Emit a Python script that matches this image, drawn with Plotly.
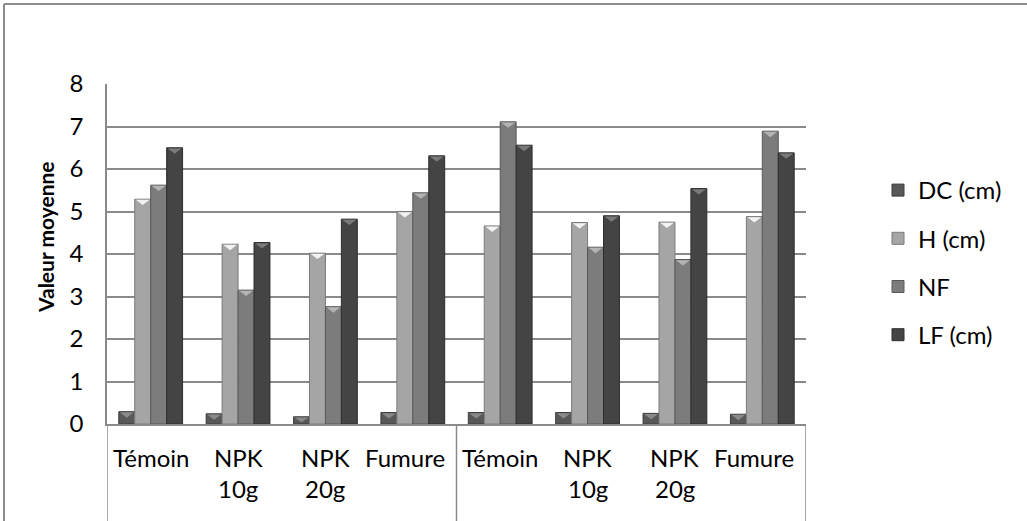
import plotly.graph_objects as go

# Treatments (two series of four) and measured means
categories = ["Témoin", "NPK 10g", "NPK 20g", "Fumure",
              "Témoin", "NPK 10g", "NPK 20g", "Fumure"]
label_lines = [["Témoin"], ["NPK", "10g"], ["NPK", "20g"], ["Fumure"],
               ["Témoin"], ["NPK", "10g"], ["NPK", "20g"], ["Fumure"]]
series_names = ["DC (cm)", "H (cm)", "NF", "LF (cm)"]
dc = [0.29, 0.24, 0.17, 0.27, 0.27, 0.27, 0.25, 0.23]
h = [5.29, 4.23, 4.02, 5.00, 4.66, 4.74, 4.75, 4.88]
nf = [5.62, 3.15, 2.76, 5.44, 7.11, 4.16, 3.87, 6.89]
lf = [6.50, 4.27, 4.82, 6.31, 6.56, 4.90, 5.54, 6.38]
y_ticks = [0, 1, 2, 3, 4, 5, 6, 7, 8]

# Styling
FONT = "Lato, 'Open Sans', sans-serif"
fills = ["#585858", "#a5a5a5", "#7c7c7c", "#444444"]
edges = ["#3c3c3c", "#7a7a7a", "#585858", "#2e2e2e"]
caps = ["#8a8a8a", "#f2f2f2", "#b4b4b4", "#7a7a7a"]
GRID = "#8a8a8a"

W, H = 1027, 521
L, R, T, B = 107, 221, 84, 97
pw, ph = W - L - R, H - T - B

bar_w = 0.1825
start = -0.365


def px_to_paper_x(px):
    return (px - L) / pw


def py_to_paper_y(py):
    return (H - B - py) / ph


fig = go.Figure()
x_idx = list(range(len(categories)))
all_series = [dc, h, nf, lf]
for j, (name, vals) in enumerate(zip(series_names, all_series)):
    fig.add_trace(go.Bar(
        x=x_idx, y=vals, name=name,
        width=bar_w, offset=start + j * bar_w,
        marker=dict(color=fills[j], line=dict(color=edges[j], width=1)),
        legendgroup=name,
        hovertext=categories,
    ))

shapes = []
# bevelled cap on each bar top
for j, vals in enumerate(all_series):
    for i, v in enumerate(vals):
        x0 = i + start + j * bar_w + 0.012
        x1 = i + start + (j + 1) * bar_w - 0.012
        xc = (x0 + x1) / 2
        d = min(0.14, v * 0.75)
        shapes.append(dict(
            type="path", xref="x", yref="y",
            path=f"M {x0},{v - 0.015} L {x1},{v - 0.015} L {xc},{v - d} Z",
            fillcolor=caps[j], line=dict(width=0), layer="above"))

# outer chart frame (top and left edges)
shapes.append(dict(type="line", xref="paper", yref="paper",
                   x0=px_to_paper_x(4), x1=px_to_paper_x(W + 5),
                   y0=py_to_paper_y(4), y1=py_to_paper_y(4),
                   line=dict(color="#8c8c8c", width=2)))
shapes.append(dict(type="line", xref="paper", yref="paper",
                   x0=px_to_paper_x(4), x1=px_to_paper_x(4),
                   y0=py_to_paper_y(4), y1=py_to_paper_y(H + 5),
                   line=dict(color="#8c8c8c", width=2)))

# category-axis group dividers below the plot
for xv in [-0.5, 3.5, 7.5]:
    shapes.append(dict(type="line", xref="x", yref="paper",
                       x0=xv, x1=xv, y0=0, y1=py_to_paper_y(H + 5),
                       line=dict(color=GRID, width=1.5)))

# category labels, centred under each category
label_xshift = [0, 0, 0, -8, 0, 0, 0, -8]
annotations = []
for i, lines in enumerate(label_lines):
    for k, line in enumerate(lines):
        annotations.append(dict(
            x=i, y=0, xref="x", yref="y", text=line, showarrow=False,
            xanchor="center", yanchor="middle",
            yshift=-33 - 31 * k, xshift=label_xshift[i],
            font=dict(family=FONT, size=24, color="#000000")))

# value-axis title
annotations.append(dict(
    x=px_to_paper_x(46), y=py_to_paper_y(237), xref="paper", yref="paper",
    text="<b>Valeur moyenne</b>", textangle=-90, showarrow=False,
    xanchor="center", yanchor="middle",
    font=dict(family=FONT, size=21, color="#000000")))

fig.update_layout(
    width=W, height=H,
    margin=dict(l=L, r=R, t=T, b=B),
    paper_bgcolor="white", plot_bgcolor="white",
    barmode="overlay",
    font=dict(family=FONT, size=20, color="#000000"),
    xaxis=dict(range=[-0.5, 7.5], showticklabels=False, showgrid=False,
               zeroline=False, showline=True, linecolor=GRID, linewidth=1.5,
               ticks=""),
    yaxis=dict(range=[0, 8], tickvals=y_ticks, showgrid=True, gridcolor=GRID,
               gridwidth=1.5, zeroline=False, showline=True, linecolor=GRID,
               linewidth=1.5, ticks="", ticklabelstandoff=17,
               tickfont=dict(family=FONT, size=24, color="#000000")),
    legend=dict(x=px_to_paper_x(878), y=py_to_paper_y(168), xanchor="left",
                yanchor="top", tracegroupgap=14,
                font=dict(family=FONT, size=24, color="#000000"),
                bgcolor="rgba(0,0,0,0)"),
    shapes=shapes,
    annotations=annotations,
    showlegend=True,
)

fig.write_html("out.html")
